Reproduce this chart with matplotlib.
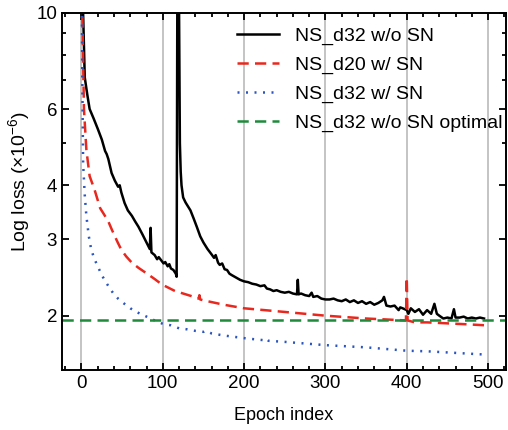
import matplotlib
matplotlib.use("Agg")
import matplotlib.pyplot as plt
import matplotlib.ticker as plticker

plt.rcParams['font.family'] = ['Liberation Sans', 'DejaVu Sans']
plt.rcParams['mathtext.fontset'] = 'custom'
plt.rcParams['mathtext.rm'] = 'Liberation Sans'
plt.rcParams['mathtext.it'] = 'Liberation Sans:italic'

# NS_d32 w/o SN (black, noisy, restart spike near epoch 118)
black_x = [0, 2, 4, 7, 10, 15, 20, 25, 29, 31, 33, 37, 41, 45, 47, 49, 53, 57, 62, 66, 70, 75, 80,
           84, 85, 86, 90, 93, 95, 99, 101, 103, 106, 108, 110, 113, 116, 117,
           118, 119, 120, 121, 122, 123, 125, 128, 130, 134, 138, 142, 146, 150, 155, 160, 163, 165,
           168, 170, 173, 176, 179, 182, 185, 190, 195, 200, 205, 210, 215, 220, 225, 228, 232, 236,
           240, 245, 250, 255, 260, 265, 266, 267, 270, 275, 280, 283, 285, 290, 295, 300, 305, 310,
           315, 320, 325, 330, 335, 340, 345, 350, 355, 360, 365, 370, 372, 375, 380, 385, 390, 392,
           395, 400, 402, 405, 410, 415, 420, 425, 430, 434, 437, 440, 445, 450, 455, 458, 460, 465,
           470, 475, 480, 485, 490, 495]
black_y = [14, 10, 7.1, 6.5, 6.0, 5.7, 5.4, 5.1, 4.8, 4.72, 4.6, 4.27, 4.1, 3.97, 4.0, 3.85, 3.64, 3.5,
           3.4, 3.3, 3.21, 3.08, 2.95,
           2.85, 3.19, 2.8, 2.76, 2.7, 2.73, 2.67, 2.64, 2.66, 2.6, 2.63, 2.57, 2.55, 2.5, 2.46,
           14, 14, 10, 5.0, 4.3, 4.0, 3.75, 3.65, 3.6, 3.5, 3.35, 3.2, 3.05, 2.95, 2.85, 2.77, 2.72, 2.76,
           2.65, 2.62, 2.64, 2.56, 2.55, 2.5, 2.48, 2.45, 2.42, 2.4, 2.39, 2.37, 2.36, 2.34, 2.35, 2.31,
           2.3, 2.28,
           2.29, 2.27, 2.26, 2.27, 2.25, 2.24, 2.42, 2.24, 2.25, 2.23, 2.22, 2.26, 2.21, 2.22, 2.19,
           2.18, 2.18, 2.19,
           2.17, 2.16, 2.18, 2.15, 2.17, 2.14, 2.16, 2.13, 2.15, 2.12, 2.14, 2.17, 2.21, 2.11, 2.1,
           2.11, 2.06, 2.09,
           2.08, 2.06, 2.02, 2.08, 2.04, 2.07, 2.01, 2.06, 2.02, 2.13, 2.02, 2.0, 1.97, 1.98, 1.97,
           2.07, 1.98, 1.98,
           1.99, 1.97, 1.98, 1.97, 1.98, 1.97]

# NS_d20 w/ SN (red dashed)
red_x = [0, 1, 3, 6, 10, 16, 23, 28, 33, 37, 41, 45, 49, 55, 62, 70, 82, 90, 99, 107, 115, 125,
         135, 144, 145, 146, 150, 175, 200, 225, 250, 275, 300, 325, 350, 375, 399, 400, 401,
         410, 425, 450, 475, 497]
red_y = [14, 10, 6.0, 4.83, 4.2, 3.91, 3.54, 3.42, 3.3, 3.17, 3.05, 2.94, 2.84, 2.74, 2.65, 2.58,
         2.49, 2.43, 2.36, 2.32, 2.28, 2.25,
         2.22, 2.19, 2.23, 2.18, 2.17, 2.12, 2.08, 2.06, 2.04, 2.02, 2.0, 1.985, 1.97, 1.96, 1.95,
         2.45, 1.95,
         1.93, 1.93, 1.92, 1.91, 1.9]

# NS_d32 w/ SN (blue dotted)
blue_x = [0, 1, 2, 4, 6, 9, 12, 16, 20, 25, 30, 35, 40, 45, 50, 60, 70, 80, 90, 100, 110, 120,
          130, 140, 150, 152, 160, 175, 190, 200, 212, 225, 227, 230, 250, 275, 300, 325, 350,
          375, 400, 425, 450, 475, 500]
blue_y = [14, 7, 4.5, 3.8, 3.4, 3.05, 2.84, 2.7, 2.6, 2.48, 2.39, 2.31, 2.24, 2.19, 2.15, 2.08,
          2.03, 1.99, 1.95, 1.915, 1.9, 1.87,
          1.86, 1.845, 1.835, 1.845, 1.82, 1.8, 1.785, 1.775, 1.765, 1.755, 1.77, 1.75, 1.74,
          1.725, 1.71, 1.7, 1.69,
          1.675, 1.66, 1.655, 1.645, 1.635, 1.625]

# NS_d32 w/o SN optimal (green dashed, constant)
optimal_loss = 1.95

labels = ['NS_d32 w/o SN', 'NS_d20 w/ SN', 'NS_d32 w/ SN', 'NS_d32 w/o SN optimal']
x_ticks = [0, 100, 200, 300, 400, 500]
y_ticks = [2, 3, 4, 6, 10]

fig = plt.figure(figsize=(5.08, 4.30), dpi=100)
ax = fig.add_axes([0.122, 0.140, 0.874, 0.830])

for xt in x_ticks:
    ax.axvline(xt, color='#c4c4c4', lw=1.4, zorder=0)

ax.plot(black_x, black_y, color='black', lw=1.8, label=labels[0])
ax.plot(red_x, red_y, color='#e8281e', lw=1.8, dashes=(4.5, 2.5), label=labels[1])
ax.plot(blue_x, blue_y, color='#2a55c0', lw=1.8, linestyle=(0, (0.8, 2.6)), label=labels[2])
ax.axhline(optimal_loss, color='#1f8a3a', lw=1.8, dashes=(4.5, 2.5), label=labels[3])

ax.set_yscale('log')
ax.set_ylim(1.5, 10)
ax.set_xlim(-24, 522)
ax.set_yticks(y_ticks)
ax.set_yticklabels([str(v) for v in y_ticks])
ax.yaxis.set_minor_locator(plticker.FixedLocator([5, 7, 8, 9]))
ax.yaxis.set_minor_formatter(plticker.NullFormatter())
ax.set_xticks(x_ticks)
ax.xaxis.set_minor_locator(plticker.MultipleLocator(20))

ax.tick_params(which='both', direction='in', top=True, right=True, labelsize=13.5, width=1.3)
ax.tick_params(which='major', length=5)
ax.tick_params(which='minor', length=3)
for s in ax.spines.values():
    s.set_linewidth(1.4)

ax.set_xlabel('Epoch index', fontsize=13, labelpad=11)
ax.set_ylabel('Log loss (×10$^{-6}$)', fontsize=14)
ax.yaxis.set_label_coords(-0.068, 0.528)

ax.legend(loc='upper left', bbox_to_anchor=(0.395, 0.96), frameon=False, fontsize=14,
          handlelength=2.15, handletextpad=0.82, labelspacing=0.58, borderpad=0, borderaxespad=0)

fig.savefig('out.png', dpi=100)
